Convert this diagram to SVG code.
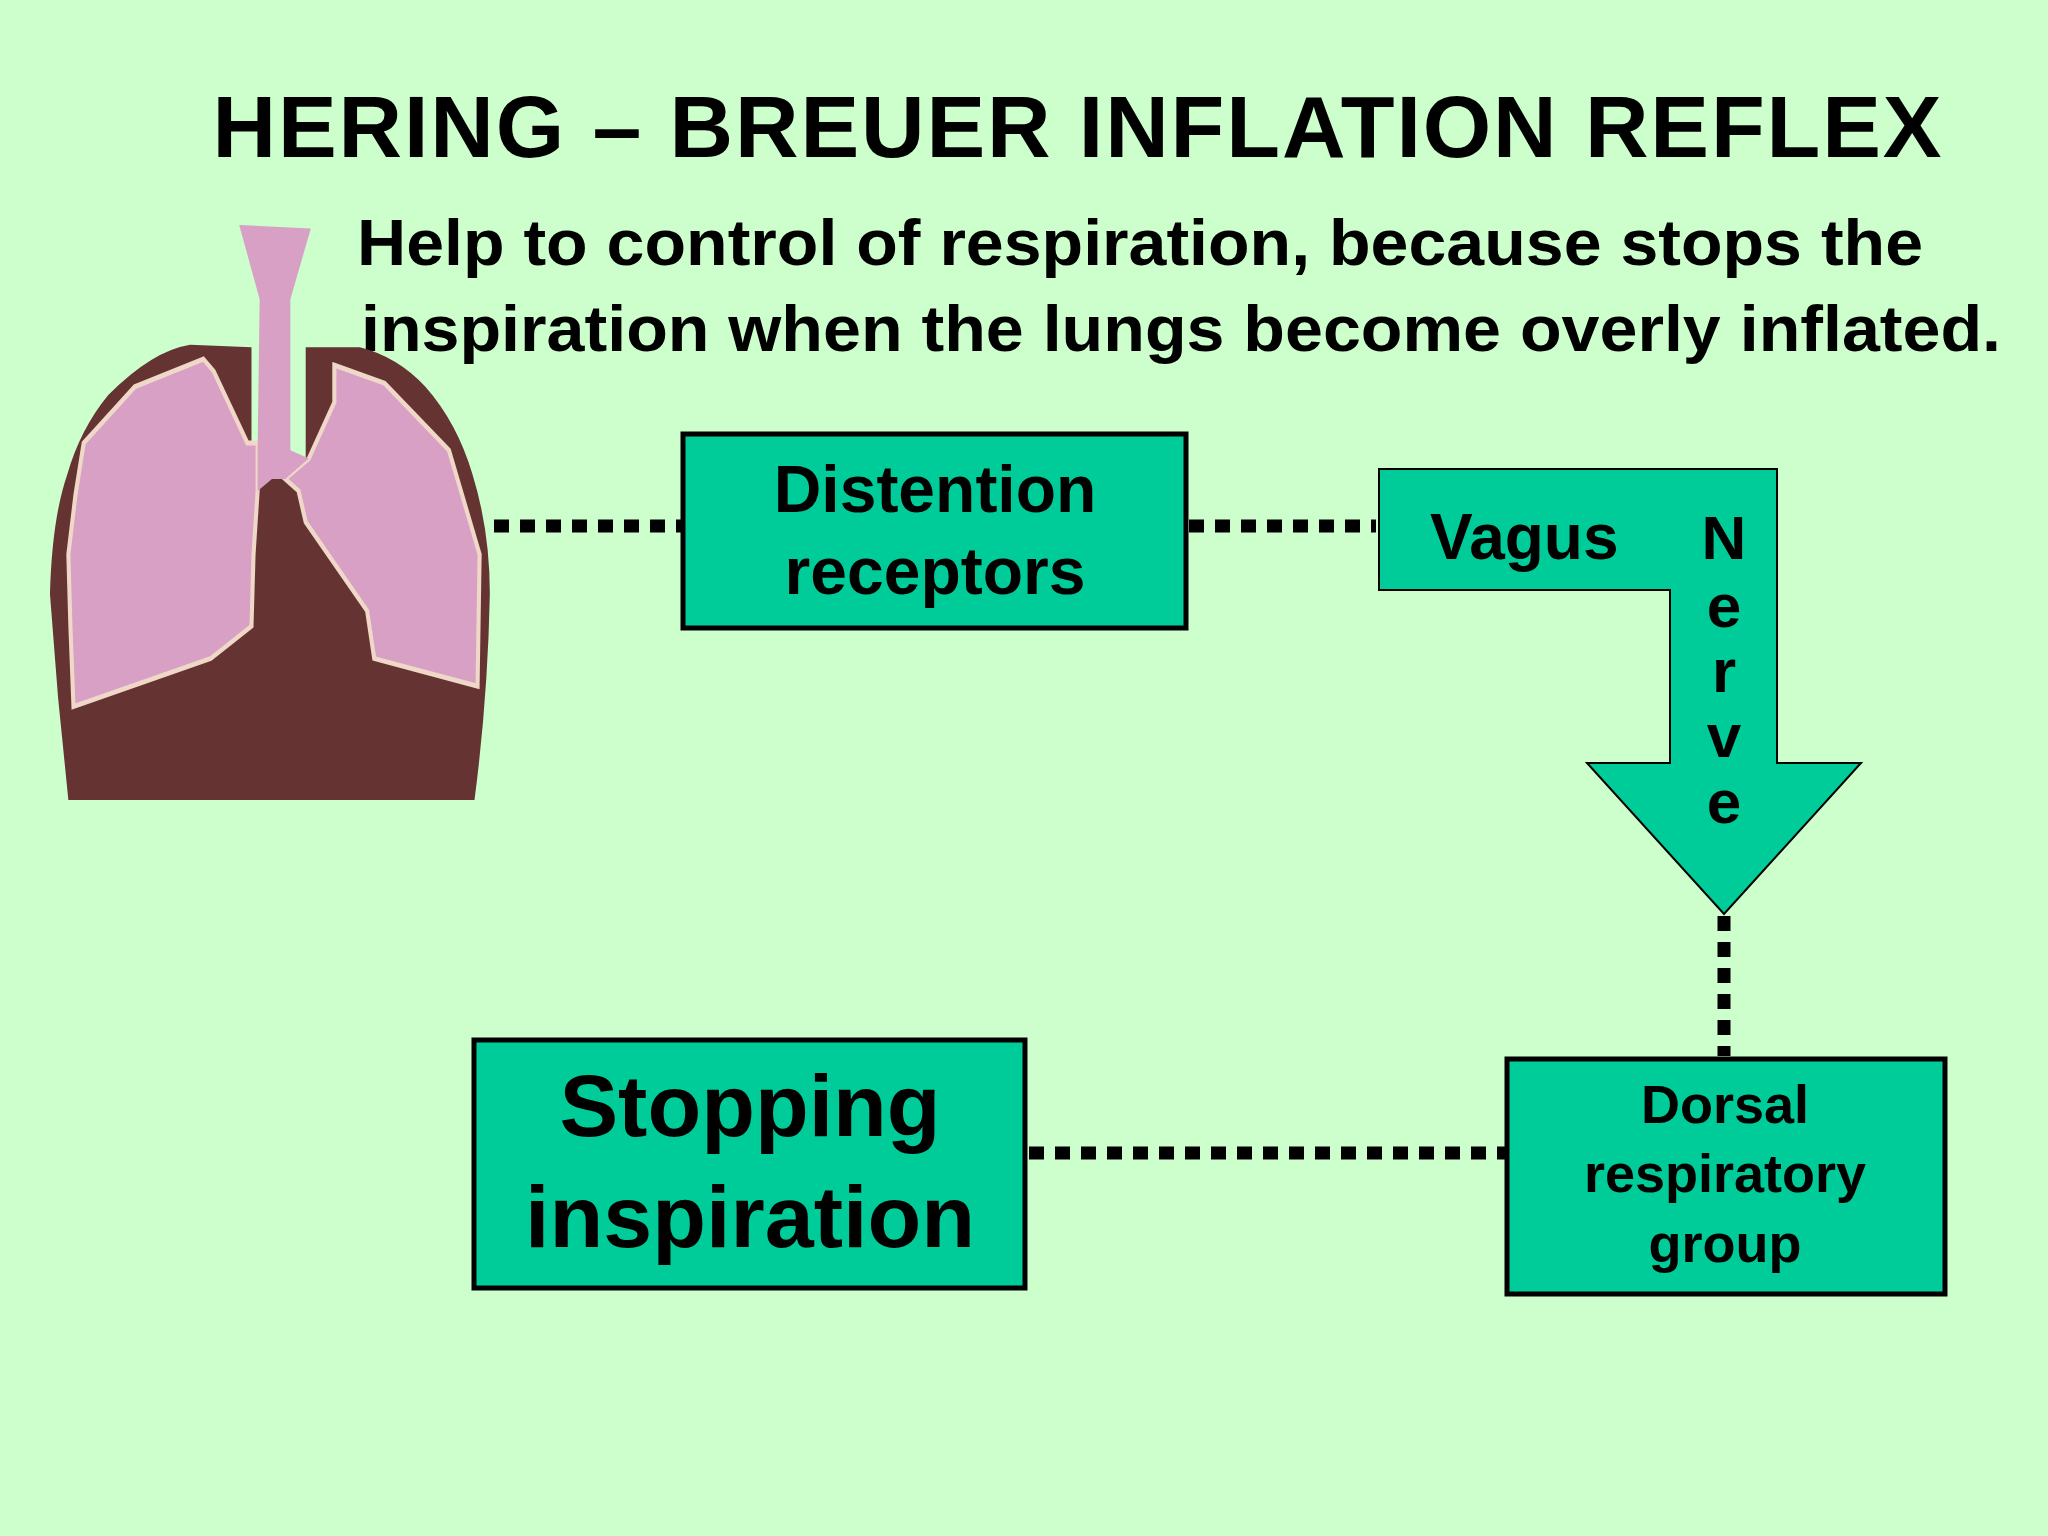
<svg xmlns="http://www.w3.org/2000/svg" width="2048" height="1536" viewBox="0 0 2048 1536">
<style>
text{font-family:"Liberation Sans",Arial,sans-serif;font-weight:bold;fill:#000}
.box{fill:#00cc99;stroke:#000;stroke-width:5}
.dot{stroke:#000;stroke-width:13;stroke-dasharray:15 11;fill:none}
</style>
<rect width="2048" height="1536" fill="#ccffcc"/>
<text x="1077" y="157" font-size="88" text-anchor="middle" textLength="1729">HERING – BREUER INFLATION REFLEX</text>
<text x="357" y="265" font-size="64" textLength="1566" lengthAdjust="spacingAndGlyphs">Help to control of respiration, because stops the</text>
<text x="361" y="351" font-size="64" textLength="1640" lengthAdjust="spacingAndGlyphs">inspiration when the lungs become overly inflated.</text>
<g id="lungs" transform="matrix(1.023,0,0,1.198,-1.2,-44.6)">
<path d="M68,705 L58,620 L50,533 Q52,470 67,433 Q80,395 107,367 Q150,330 187,325 L247,327 L247,420 L300,420 L300,327 L353,327 Q390,335 417,360 Q448,390 463,433 Q480,480 480,533 Q478,620 465,705 Z" fill="#663333"/>
<path d="M200,337 L210,347 L243,407 L253,407 L253,447 L249,500 L247,560 L207,587 L73,627 L70,560 L68,500 L75,450 L83,407 L133,360 Z" fill="#d8a0c4" stroke="#f0d8c8" stroke-width="4"/>
<path d="M328,342 L377,357 L440,413 L470,500 L468,610 L367,587 L360,547 L300,473 L293,447 L280,437 L303,420 L328,373 Z" fill="#d8a0c4" stroke="#f0d8c8" stroke-width="4"/>
<path d="M235,225 L305,228 L285,287 L285,413 L303,420 L280,437 L267,437 L253,447 L253,413 L255,287 Z" fill="#d8a0c4"/>
</g>
<g id="connectors">
<line class="dot" x1="494" y1="526" x2="681" y2="526"/>
<line class="dot" x1="1189" y1="526" x2="1376" y2="526"/>
<line class="dot" x1="1724" y1="916" x2="1724" y2="1056"/>
<line class="dot" x1="1029" y1="1153" x2="1505" y2="1153"/>
</g>
<g id="distention">
<rect class="box" x="683" y="434" width="503" height="194"/>
<text x="935" y="512" font-size="66" text-anchor="middle">Distention</text>
<text x="935" y="594" font-size="66" text-anchor="middle">receptors</text>
</g>
<g id="vagus">
<polygon points="1379,469 1777,469 1777,763 1861,763 1724,914 1587,763 1670,763 1670,590 1379,590" fill="#00cc99" stroke="#000" stroke-width="2"/>
<text x="1430" y="559" font-size="64">Vagus</text>
<g font-size="62" text-anchor="middle">
<text x="1724" y="559">N</text><text x="1724" y="627">e</text><text x="1724" y="692">r</text><text x="1724" y="757">v</text><text x="1724" y="823">e</text>
</g>
</g>
<g id="dorsal">
<rect class="box" x="1507" y="1059" width="438" height="235"/>
<text x="1725" y="1123" font-size="54" text-anchor="middle">Dorsal</text>
<text x="1725" y="1192" font-size="54" text-anchor="middle">respiratory</text>
<text x="1725" y="1262" font-size="54" text-anchor="middle">group</text>
</g>
<g id="stopping">
<rect class="box" x="474" y="1040" width="551" height="248"/>
<text x="750" y="1136" font-size="88" text-anchor="middle">Stopping</text>
<text x="750" y="1247" font-size="88" text-anchor="middle">inspiration</text>
</g>
</svg>
